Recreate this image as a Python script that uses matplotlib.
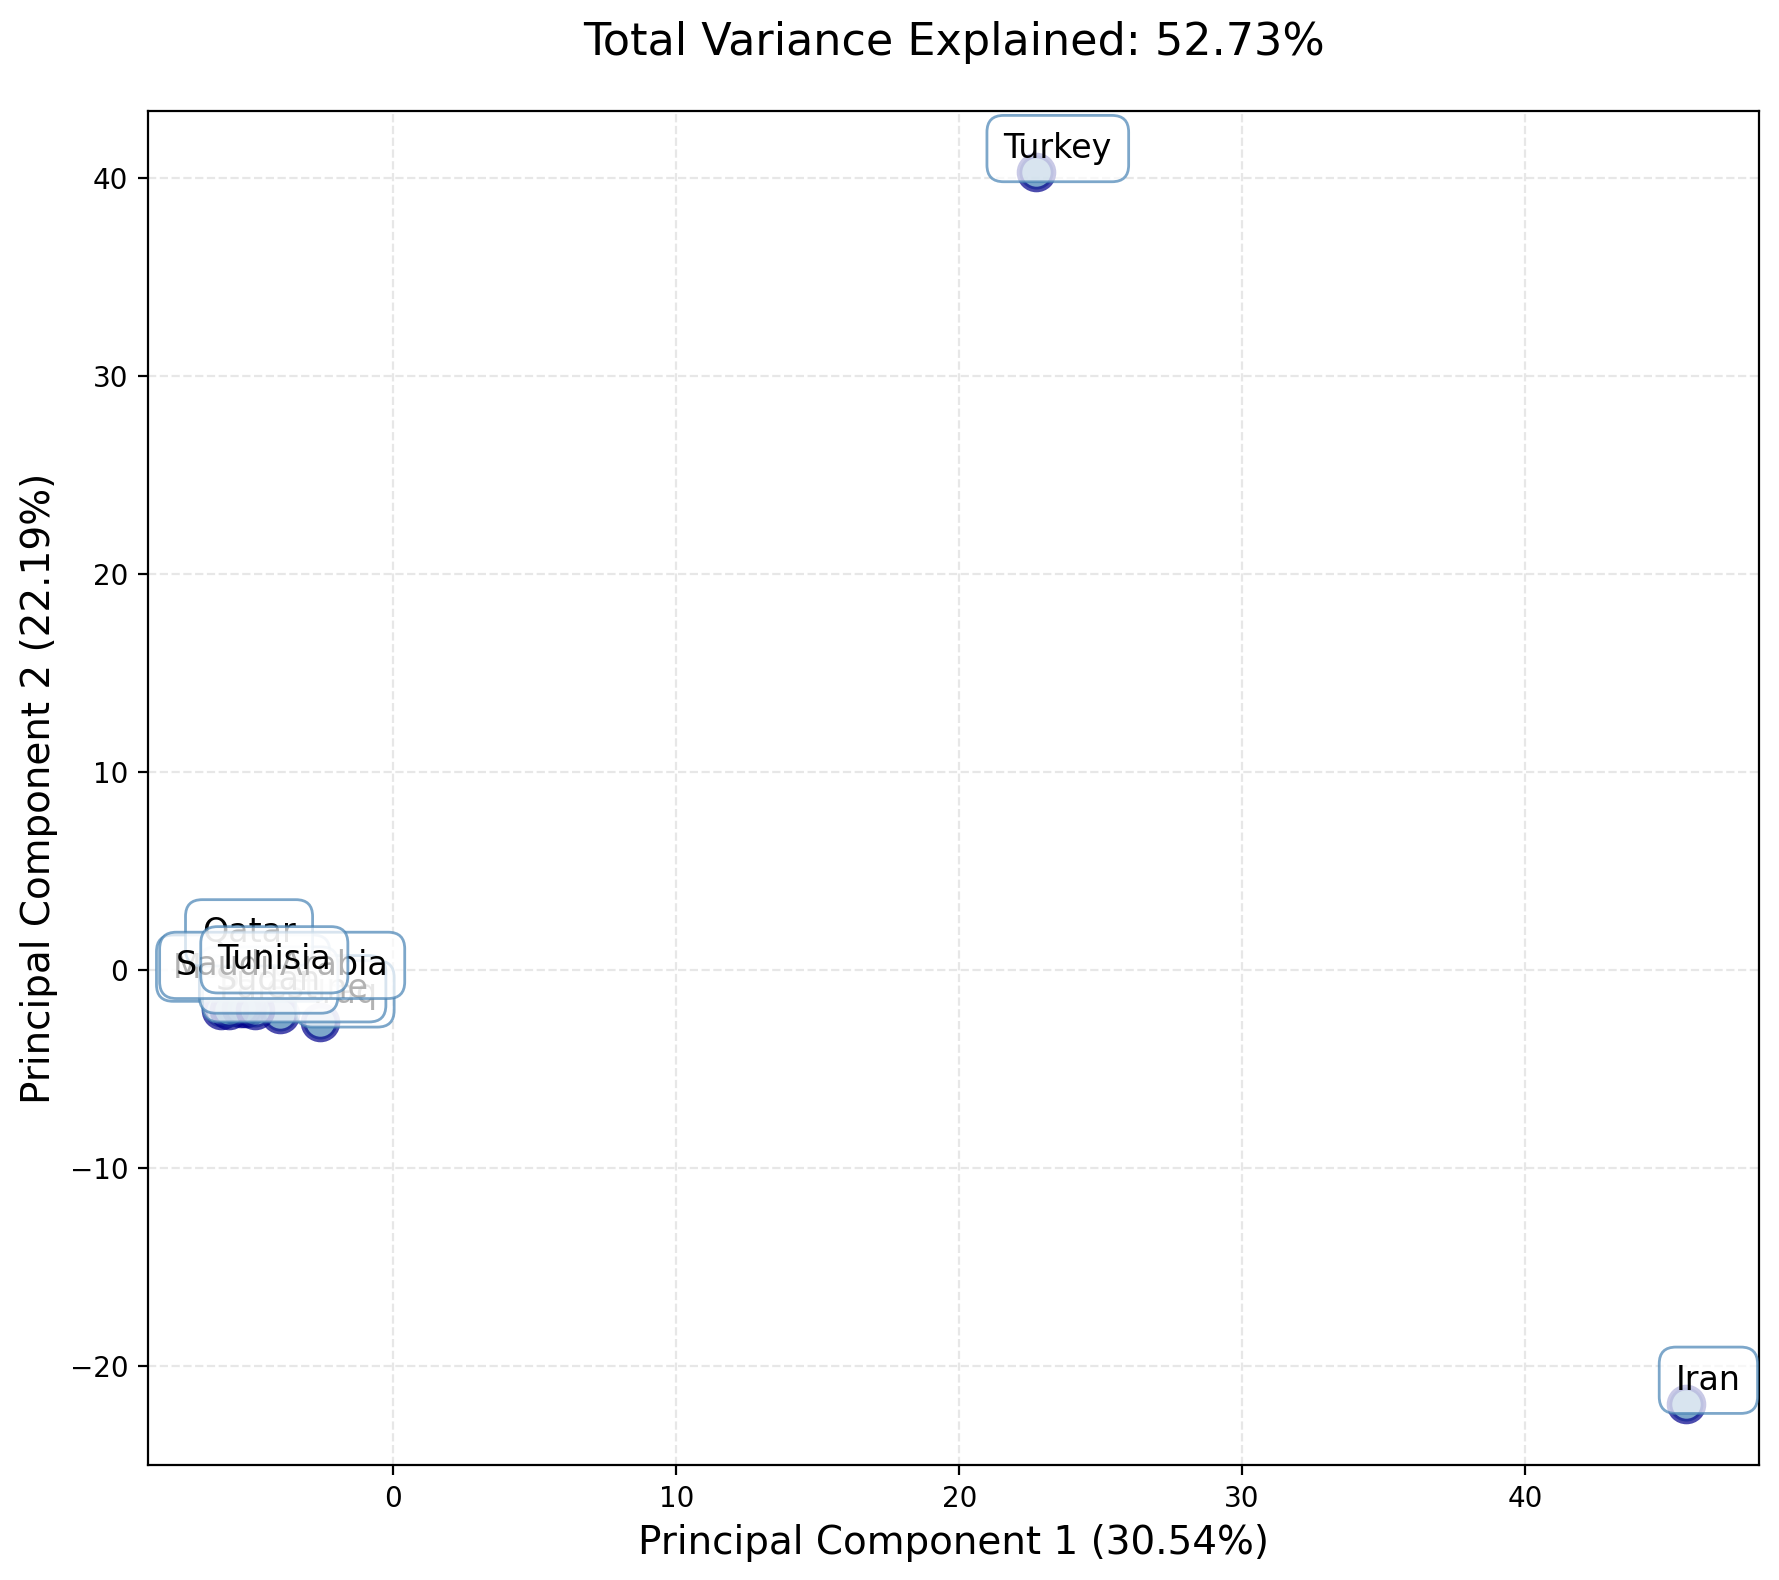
import numpy as np
import matplotlib
matplotlib.use('Agg')
import matplotlib.pyplot as plt

# PCA scores (drawing order = stacking order of labels)
countries = ['Iraq', 'Morocco', 'Palestine', 'Sudan', 'Qatar', 'Saudi Arabia',
             'Tunisia', 'Turkey', 'Iran']
pc1 = [-2.6, -6.1, -4.0, -5.2, -5.4, -5.8, -4.9, 22.7, 45.7]
pc2 = [-2.6, -2.0, -2.2, -1.9, -1.9, -2.0, -2.0, 40.3, -21.9]
var_pc1 = 30.54
var_pc2 = 22.19

# label offsets (points) - labels in the crowded corner got pushed apart
label_offsets = {'Iraq': (9, 10), 'Morocco': (8, 15), 'Palestine': (5, 9),
                 'Sudan': (8, 10), 'Qatar': (3, 27), 'Saudi Arabia': (19, 16),
                 'Tunisia': (7, 18), 'Turkey': (8, 8.5), 'Iran': (8, 8.5)}

fig = plt.figure(figsize=(1779 / 200, 1580 / 200), dpi=200)
ax = fig.add_axes([0.083, 0.0725, 0.906, 0.8575])

ax.scatter(pc1, pc2, s=150, c='steelblue', alpha=0.7,
           edgecolors='darkblue', linewidths=2, zorder=2)

for name, x, y in zip(countries, pc1, pc2):
    ax.annotate(name, (x, y), xytext=label_offsets[name], textcoords='offset points',
                ha='center', va='center', fontsize=12,
                bbox=dict(boxstyle='round,pad=0.5', fc='white', ec='steelblue', alpha=0.7),
                zorder=3)

ax.set_xlabel('Principal Component 1 ({:.2f}%)'.format(var_pc1), fontsize=14)
ax.set_ylabel('Principal Component 2 ({:.2f}%)'.format(var_pc2), fontsize=14)
ax.set_title('Total Variance Explained: {:.2f}%'.format(var_pc1 + var_pc2), fontsize=16, pad=20)
ax.grid(True, linestyle='--', alpha=0.3)

fig.savefig('out.png', dpi=200)
